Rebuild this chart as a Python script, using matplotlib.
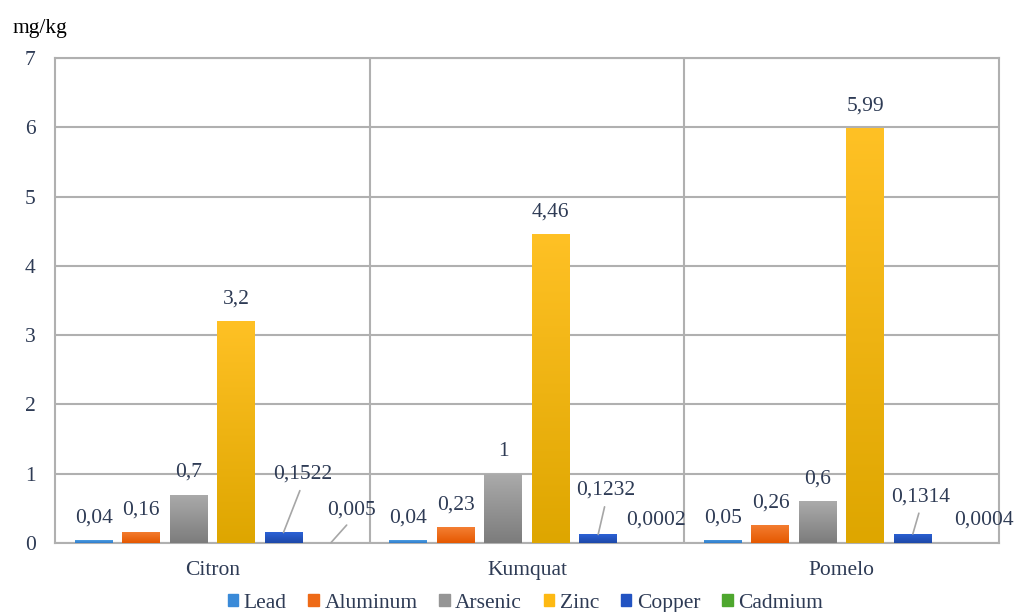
import numpy as np
import matplotlib.pyplot as plt
from matplotlib.colors import LinearSegmentedColormap
from matplotlib.patches import Patch

fruits = ['Citron', 'Kumquat', 'Pomelo']
metals = ['Lead', 'Aluminum', 'Arsenic', 'Zinc', 'Copper', 'Cadmium']
lead = [0.04, 0.04, 0.05]
aluminum = [0.16, 0.23, 0.26]
arsenic = [0.7, 1.0, 0.6]
zinc = [3.2, 4.46, 5.99]
copper = [0.1522, 0.1232, 0.1314]
cadmium = [0.005, 0.0002, 0.0004]
series = [lead, aluminum, arsenic, zinc, copper, cadmium]

# gradient colours per metal: (top, bottom)
grads = [('#4d9de2', '#2f7ccb'),
         ('#f47f33', '#e55800'),
         ('#ababab', '#7c7c7c'),
         ('#ffc125', '#dea600'),
         ('#2c62d6', '#1d48a8'),
         ('#58b034', '#3f8f22')]
flat = ['#3a8ad8', '#ee6a17', '#959595', '#fdb913', '#2253c2', '#4ea72e']

# label offsets in pixels (dx, dy to label centre) and whether a leader line is drawn
callouts = {(4, 0): (19, 58, True), (4, 1): (8, 44, True), (4, 2): (8, 37, True),
            (5, 0): (21, 33, True), (5, 1): (10, 23, False), (5, 2): (24, 23, False)}

txt = '#2e3b55'
fs = 15.5
plt.rcParams['font.family'] = ['Liberation Serif', 'DejaVu Serif']

fig = plt.figure(figsize=(10.14, 6.12), dpi=100)
ax = fig.add_axes([0.0542, 0.1127, 0.9310, 0.7923])

x = np.arange(len(fruits))
pitch = 0.1508
width = 0.1206
grad = np.linspace(1, 0, 256).reshape(-1, 1)

for j, vals in enumerate(series):
    pos = x + (j - 2.5) * pitch
    bars = ax.bar(pos, vals, width, color=flat[j], zorder=2, linewidth=0)
    cmap = LinearSegmentedColormap.from_list('g%d' % j, [grads[j][1], grads[j][0]])
    for i, b in enumerate(bars):
        x0 = b.get_x()
        h = b.get_height()
        im = ax.imshow(grad, cmap=cmap, aspect='auto', origin='upper',
                       extent=(x0, x0 + b.get_width(), 0, h), zorder=3,
                       vmin=0, vmax=1)
        im.set_clip_path(b)
        label = '{:g}'.format(vals[i]).replace('.', ',')
        dx, dy, line = callouts.get((j, i), (0, 22, False))
        props = None
        if line:
            props = dict(arrowstyle='-', color='#a6a6a6', lw=1.2,
                         shrinkA=3, shrinkB=0, relpos=(0.5, 0))
        ax.annotate(label, xy=(pos[i], vals[i]), xytext=(dx, dy),
                    textcoords='offset pixels', ha='center', va='center',
                    fontsize=fs, color=txt, annotation_clip=False,
                    arrowprops=props, zorder=5)

grid_c = '#b0b0b0'
ax.set_xlim(-0.5, 2.5)
ax.set_ylim(0, 7)
ax.set_yticks(range(8))
ax.set_xticks(x)
ax.set_xticklabels(fruits)
ax.yaxis.grid(True, color=grid_c, lw=1.5, zorder=0)
ax.set_axisbelow(True)
for b in [0.5, 1.5]:
    ax.axvline(b, color=grid_c, lw=1.5, zorder=1)
for s in ax.spines.values():
    s.set_color(grid_c)
    s.set_linewidth(1.5)
ax.tick_params(axis='both', length=0, labelsize=fs, labelcolor=txt)
ax.tick_params(axis='y', pad=14)
ax.tick_params(axis='x', pad=13)

fig.text(0.012, 0.954, 'mg/kg', fontsize=fs, color='black', va='center', ha='left')

handles = [Patch(color=c) for c in flat]
leg = fig.legend(handles, metals, loc='center', bbox_to_anchor=(0.518, 0.014),
                 ncol=6, frameon=False, handlelength=0.5, handleheight=0.5,
                 handletextpad=0.25, columnspacing=1.0, fontsize=fs)
for t in leg.get_texts():
    t.set_color(txt)

fig.savefig('out.png', dpi=100)
